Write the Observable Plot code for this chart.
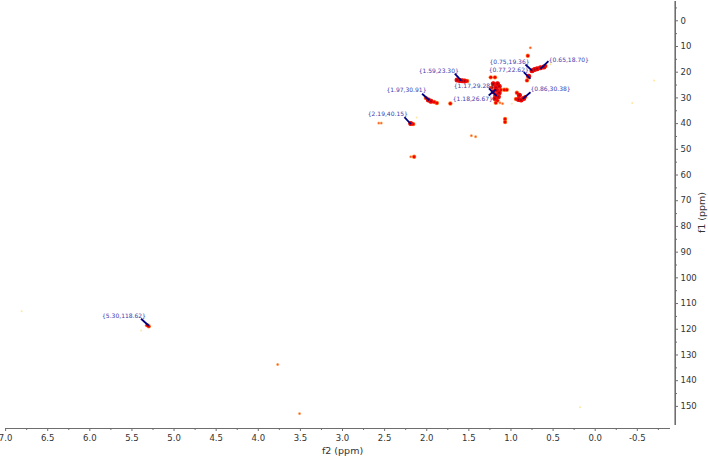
<!DOCTYPE html>
<html><head><meta charset="utf-8">
<script src="https://cdn.jsdelivr.net/npm/d3@7"></script>
<script src="https://cdn.jsdelivr.net/npm/@observablehq/plot@0.6"></script>
<style>html,body{margin:0;padding:0;background:#fff}svg{display:block}</style>
</head><body><div id="chart"></div>
<script>
const peakF2 = [0.77,0.80,0.75,0.72,0.69,0.65,0.61,0.59,0.79,0.81,
 1.64,1.61,1.58,1.55,1.52,2.01,1.98,1.95,1.91,1.88,1.72,2.19,2.16,2.57,2.54,2.12,1.47,1.42,2.19,2.15,1.07,1.07,
 1.24,1.19,1.21,1.16,1.18,1.14,1.12,1.05,1.08,1.21,1.17,1.14,1.18,1.15,1.19,1.16,1.18,1.13,1.10,1.23,
 0.93,0.90,0.85,0.91,0.83,0.88,0.94,0.99,
 6.81,5.39,5.32,5.30,3.77,3.51,0.18,-0.70,-0.44,0.53];
const peakF1 = [10.5,13.6,19.4,19.0,18.7,18.3,18.0,17.6,21.6,23.2,
 23.0,23.2,23.3,23.4,23.4,30.0,30.8,31.3,31.6,32.0,32.2,40.0,40.2,39.8,39.8,37.6,44.7,45.1,52.9,52.9,38.2,39.4,
 22.0,22.0,24.5,24.5,26.0,25.5,26.8,26.8,26.8,27.6,27.0,28.0,29.0,29.6,30.2,31.0,31.9,31.9,32.2,26.0,
 28.0,29.0,30.2,30.6,29.6,30.8,30.4,32.3,
 113,120.5,118.4,118.8,133.7,152.8,150.3,23.2,32,16.9];
const peakLevel = [1,2,3,3,3,3,3,2,3,2,
 3,3,3,3,2,2,3,3,2,2,2,3,2,1,1,0,1,1,1,2,2,2,
 2,2,3,3,3,3,2,2,2,3,3,3,3,3,3,2,2,1,1,2,
 2,3,3,3,2,3,2,0,
 0,0,2,2,1,1,0,0,0,0];

const labelText = ["{0.65,18.70}","{0.75,19.36}","{0.77,22.62}","{1.59,23.30}","{1.17,29.28}","{1.18,26.67}","{0.86,30.38}","{1.97,30.91}","{2.19,40.15}","{5.30,118.62}"];
const labelF2 = [0.551,1.255,1.264,2.095,1.679,1.691,0.768,2.479,2.70,5.855];
const labelF1 = [15.17,16.1,19.06,19.6,25.44,30.6,26.72,27.1,36.44,114.9];
const arrowF2 = [0.555,0.828,0.848,1.667,1.261,1.264,0.768,2.055,2.265,5.392];
const arrowF1 = [15.7,17,20,20.6,26.3,29.05,27.8,28.4,37.5,115.9];
const endF2 = [0.65,0.75,0.77,1.59,1.17,1.18,0.86,1.97,2.19,5.30];
const endF1 = [18.70,19.36,22.62,23.30,29.28,26.67,30.38,30.91,40.15,118.62];

const xMajor = d3.range(0,16).map(i=>7-i*0.5);
const xMinor = d3.range(0,16).map(i=>6.75-i*0.5);
const yMajor = d3.range(0,16).map(i=>i*10);
const yMinor = d3.range(0,16).map(i=>i*10-5);

const peaks = peakF2.map((x,i)=>({x,y:peakF1[i],l:peakLevel[i]}));
const notes = labelText.map((t,i)=>({t,lx:labelF2[i],ly:labelF1[i],x1:arrowF2[i],y1:arrowF1[i],x2:endF2[i],y2:endF1[i]}));
const layer = (min,r,fill)=>Plot.dot(peaks.filter(d=>d.l>=min),{x:"x",y:"y",r,fill,imageFilter:"blur(0.6px)"});
const only = (lv,r,fill)=>Plot.dot(peaks.filter(d=>d.l===lv),{x:"x",y:"y",r,fill,imageFilter:"blur(0.4px)"});
const AX="#6e6e6e", TX="#333";
const font="DejaVu Sans";

const plot = Plot.plot({
  width:708,height:457,marginLeft:0,marginRight:34,marginTop:1,marginBottom:29,
  style:{fontFamily:font,background:"#fff",overflow:"visible"},
  x:{domain:[7,-0.894],range:[5.1,670]},
  y:{domain:[-7.5,158.6],range:[1,428]},
  marks:[
    only(0,1,"#ffe7a0"),
    only(1,1.6,"#ffc08a"),
    only(1,0.9,"#ff5a1e"),
    layer(2,2.2,"#ff8a30"),
    layer(2,1.5,"#f40000"),
    layer(3,2.5,"#ee0a0a"),
    layer(3,1,"#a80010"),
    Plot.ruleY([158.6],{x1:7,x2:-0.894,stroke:AX,strokeWidth:1.2}),
    Plot.ruleX([-0.95],{y1:-7.5,y2:157.4,stroke:AX,strokeWidth:1.6}),
    Plot.axisX(xMajor,{anchor:"bottom",tickSize:3,tickPadding:3,fontSize:8.5,color:TX,stroke:AX,tickFormat:d=>d.toFixed(1),label:null}),
    Plot.axisX(xMinor,{anchor:"bottom",tickSize:2,text:null,stroke:AX,label:null}),
    Plot.axisY(yMajor,{anchor:"right",tickSize:3,tickPadding:3,fontSize:8.5,color:TX,stroke:AX,label:null}),
    Plot.axisY(yMinor,{anchor:"right",tickSize:2,text:null,stroke:AX,label:null}),
    Plot.link(notes,{x1:"x1",y1:"y1",x2:"x2",y2:"y2",stroke:"#000080",strokeWidth:1.8,markerEnd:"none"}),
    Plot.text(notes,{x:"lx",y:"ly",text:"t",textAnchor:"start",fontSize:6,fill:"#3c3cb0"}),
    Plot.text(["f2 (ppm)"],{x:[3.0],y:[157.4],dy:26,fontSize:9.5,fill:TX,text:d=>d}),
    Plot.text(["f1 (ppm)"],{x:[-0.894],y:[74.6],dx:31,rotate:-90,fontSize:9.5,fill:TX,text:d=>d})
  ]
});
document.getElementById("chart").appendChild(plot);
</script></body></html>
